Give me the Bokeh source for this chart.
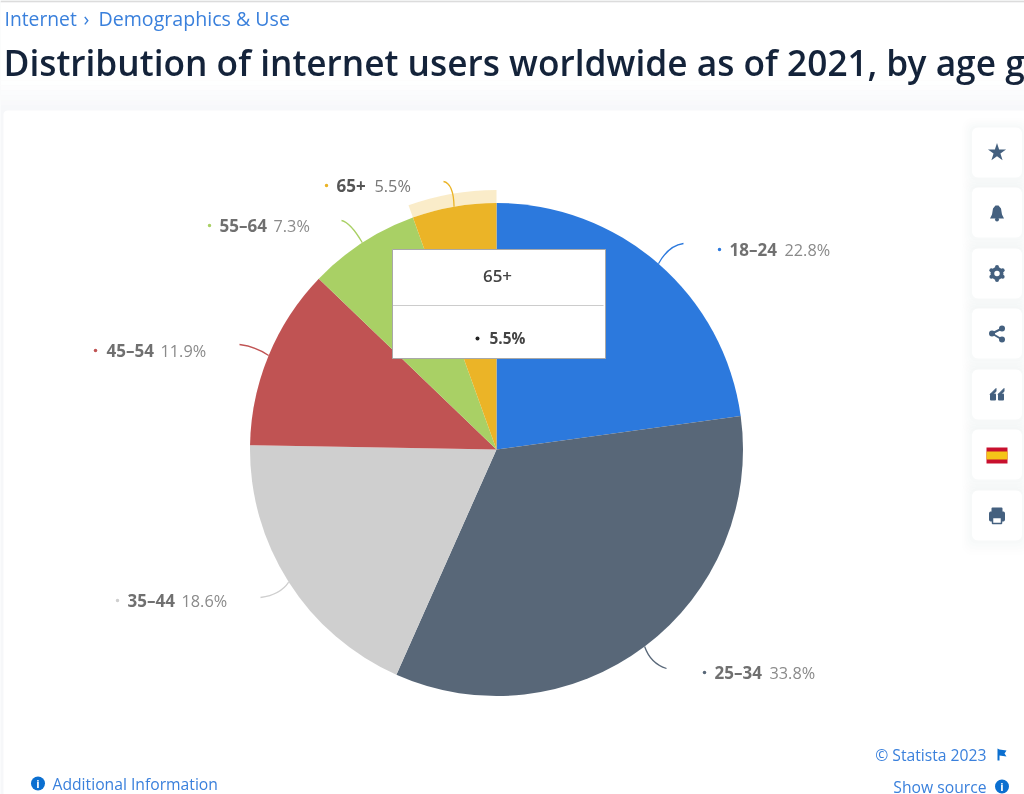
import math
from bokeh.plotting import figure
from bokeh.models import ColumnDataSource
from bokeh.core.properties import value
from bokeh.embed import file_html
from bokeh.resources import INLINE

categories = ["18-24", "25-34", "35-44", "45-54", "55-64", "65+"]
label_names = ["18–24", "25–34", "35–44", "45–54", "55–64", "65+"]
shares = [22.8, 33.8, 18.6, 11.9, 7.3, 5.5]
colors = ["#2c79dd", "#586778", "#cfcfcf", "#c05353", "#a9d065", "#ebb427"]

W, H = 1024, 794
FONT = value("Open Sans")
SEMI = value("Open Sans SemiBold")
p = figure(width=W, height=H, x_range=(0, W), y_range=(0, H), toolbar_location=None,
           output_backend="svg", min_border=0, outline_line_color=None,
           background_fill_color="#f6f7f9", border_fill_color="#f6f7f9",
           styles={"position": "fixed", "left": "0px", "top": "0px"})
p.axis.visible = False
p.grid.visible = False
p.xaxis.visible = False
p.yaxis.visible = False


def Y(y):
    return H - y


def box(x0, y0, x1, y1, color, alpha=1.0, r=0, line=None, lw=1):
    pts = []
    if r:
        for cx, cy, a0 in ((x1 - r, y0 + r, -90), (x1 - r, y1 - r, 0), (x0 + r, y1 - r, 90), (x0 + r, y0 + r, 180)):
            for k in range(7):
                a = math.radians(a0 + 15 * k)
                pts.append((cx + r * math.cos(a), Y(cy + r * math.sin(a))))
    else:
        pts = [(x0, Y(y0)), (x1, Y(y0)), (x1, Y(y1)), (x0, Y(y1))]
    p.patch([q[0] for q in pts], [q[1] for q in pts], fill_color=color, fill_alpha=alpha,
            line_color=line, line_width=lw)


def label(x, y, s, size, color, bold=False, align="left", font=FONT):
    p.text([x], [Y(y)], text=[s], text_font=font, text_font_size=f"{size}px", text_color=color,
           text_font_style="bold" if bold else "normal", text_align=align, text_baseline="alphabetic")


# page chrome
box(0, 0, W, 2, "#dcdcdc")
box(0, 2, W, 80, "#ffffff")
for i, a in enumerate((0.9, 0.75, 0.6, 0.45, 0.3, 0.15)):
    box(0, 80 + i * 5, W, 85 + i * 5, "#ffffff", alpha=a)
box(3, 110, W + 10, H + 10, "#ffffff", r=4)

label(4, 18, "Internet", 19.3, "#3a80dc")
label(83, 18, "›", 19.3, "#3a80dc")
label(98, 18, "Demographics & Use", 19.6, "#3a80dc")
label(3, 61, "Distribution of internet users worldwide as of 2021, by age g", 35.3, "#14233a", font=SEMI)

# pie
CX, CY_PX, R = 496, 449, 246.5
CY = Y(CY_PX)
total = sum(shares)
starts, ends, mids = [], [], []
acc = 0.0
for v in shares:
    starts.append(math.pi / 2 - 2 * math.pi * acc / total)
    mids.append(2 * math.pi * (acc + v / 2) / total)
    acc += v
    ends.append(math.pi / 2 - 2 * math.pi * acc / total)

src = ColumnDataSource(dict(cat=categories, s=starts, e=ends, c=colors))
p.annular_wedge(x=CX, y=CY, inner_radius=R, outer_radius=R + 13, start_angle=starts[-1], end_angle=ends[-1],
                direction="clock", fill_color=colors[-1], fill_alpha=0.25, line_color=None)
p.wedge(x=CX, y=CY, radius=R, start_angle="s", end_angle="e", direction="clock", fill_color="c",
        line_color=None, source=src)

# connector end points and label anchors (layout, in page pixels)
conn_ends = [(683, 243), (666, 668), (260, 597), (239, 344), (341, 220), (443, 181)]
conn_bend = [(668, 245), (650, 663), (280, 594), (255, 346), (350, 222), (453, 183)]
label_x = [729, 714, 127, 106, 219, 336]
value_x = [784, 769, 181, 160, 273, 374]
label_y = [249, 672, 600, 350, 225, 185]
dot_x = [719, 704, 117, 95, 209, 326]

for i in range(len(shares)):
    sx = CX + R * math.sin(mids[i])
    sy = CY_PX - R * math.cos(mids[i])
    ex, ey = conn_ends[i]
    bx, by = conn_bend[i]
    p.quadratic(x0=[sx], y0=[Y(sy)], x1=[ex], y1=[Y(ey)], cx=[bx], cy=[Y(by)], line_color=colors[i], line_width=1.3)
    p.scatter([dot_x[i]], [Y(label_y[i])], size=3.5, color=colors[i], line_color=None)
    active = i == len(shares) - 1
    label(label_x[i], label_y[i], label_names[i], 17, "#555555" if active else "#707070", bold=True)
    label(value_x[i], label_y[i], f"{shares[i]}%", 16.3, "#777777" if active else "#8a8a8a")

# tooltip
box(392, 249, 605, 358, "#ffffff", line="#a8a8a8", lw=1)
box(392.5, 304.5, 603, 305.5, "#cccccc")
label(497, 275, label_names[-1], 17, "#444444", align="center", font=SEMI)
p.scatter([477], [Y(338)], size=4, color="#222222", line_color=None)
label(489, 338, f"{shares[-1]}%", 15.4, "#444444", bold=True)

# side buttons
ICON = "#44607f"
button_y = [152, 212, 273, 333, 394, 454, 515]
for by in button_y:
    for g, a in ((5, 0.004), (4, 0.005), (3, 0.006), (2, 0.008), (1, 0.01)):
        box(971 - g * 2, by - 25 - g * 2, 1021 + g * 2, by + 25 + g * 3, "#3a4a60", alpha=a, r=6 + g)
for by in button_y:
    box(971.5, by - 25, 1021.5, by + 25, "#ffffff", r=6)
xc = 996.5
# star
p.scatter([xc], [Y(152)], marker="star", size=19, color=ICON, line_color=None)
# bell
p.patch([xc - 7, xc - 5, xc - 4, xc - 1.5, xc + 1.5, xc + 4, xc + 5, xc + 7],
        [Y(218), Y(214), Y(208), Y(205), Y(205), Y(208), Y(214), Y(218)], fill_color=ICON, line_color=None)
p.scatter([xc], [Y(219)], marker="circle", size=4, color=ICON, line_color=None)
# gear
p.scatter([xc], [Y(273)], marker="circle", size=13, color=ICON, line_color=None)
p.scatter([xc + 6.5 * math.cos(math.radians(a)) for a in range(30, 360, 60)],
          [Y(273 + 6.5 * math.sin(math.radians(a))) for a in range(30, 360, 60)],
          marker="circle", size=4, color=ICON, line_color=None)
p.scatter([xc], [Y(273)], marker="circle", size=5.5, color="#ffffff", line_color=None)
# share
p.multi_line([[xc - 5, xc + 5], [xc - 5, xc + 5]], [[Y(333), Y(328)], [Y(333), Y(339)]], line_color=ICON, line_width=2)
p.scatter([xc - 5, xc + 5, xc + 5], [Y(333), Y(328), Y(339)], marker="circle", size=6, color=ICON, line_color=None)
# quote
for qx in (xc - 7, xc + 1):
    box(qx, 393, qx + 6, 400, ICON, r=1)
    p.patch([qx, qx + 6, qx + 6, qx + 2], [Y(394), Y(388), Y(391), Y(394)], fill_color=ICON, line_color=ICON)
# flag
box(986, 447, 1007, 463, "#c8102e")
box(986, 451, 1007, 459, "#f5c518")
# printer
box(xc - 8, 511, xc + 8, 521, ICON, r=2)
box(xc - 5.5, 507, xc + 5.5, 512, ICON, r=1)
box(xc - 4.5, 517, xc + 4.5, 523, "#ffffff", line=ICON, lw=1.5)

# footer
FOOT = "#3a80dc"
label(986, 754, "© Statista 2023", 15.7, FOOT, align="right")
label(986, 786, "Show source", 15.7, FOOT, align="right")
label(52, 783, "Additional Information", 15.7, FOOT)
for ix, iy in ((37.5, 783), (1001.5, 786)):
    p.scatter([ix], [Y(iy)], marker="circle", size=14, color="#0b6fd0", line_color=None)
    p.text([ix], [Y(iy)], text=["i"], text_font=FONT, text_font_size="11px", text_font_style="bold",
           text_color="#ffffff", text_align="center", text_baseline="middle")
p.patch([997, 999, 1006, 1004, 1006, 999, 999, 997], [Y(748), Y(749), Y(750), Y(753), Y(756), Y(755), Y(760), Y(760)],
        fill_color="#0b6fd0", line_color=None)

open("out.html", "w").write(file_html(p, INLINE))
